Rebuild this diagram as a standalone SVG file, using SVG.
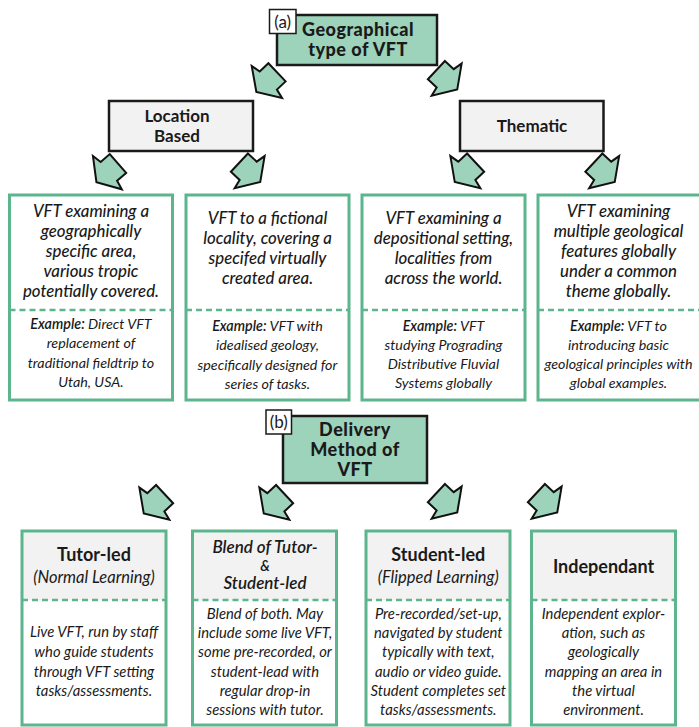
<svg xmlns="http://www.w3.org/2000/svg" width="699" height="727" viewBox="0 0 699 727">
<style>
text{font-family:Lato,"Open Sans","DejaVu Sans",sans-serif;fill:#1a1a1a;text-anchor:middle}
.hd{font-weight:900;font-size:18px;letter-spacing:0.5px}
.hd2{font-weight:bold;font-size:18px}
.gb{font-weight:bold;font-size:17px}
.lab{font-size:17px}
.mi{font-style:italic;font-weight:500;font-size:16.8px}
.ex{font-style:italic;font-weight:400;font-size:14.3px}
.exb{font-style:italic;font-weight:600}
.bd{font-style:italic;font-weight:400;font-size:14.8px}
.sub{font-style:italic;font-size:16.5px}
.sb{font-style:italic;font-weight:600;font-size:17px}
.amp{font-style:italic;font-weight:600;font-size:14.5px}
.mint{fill:#9dd3bb;stroke:#1a1a1a;stroke-width:2.5}
.gray{fill:#f2f2f2;stroke:#1a1a1a;stroke-width:2.5}
.gbox{fill:none;stroke:#5cb58d;stroke-width:3}
.dash{stroke:#5cb58d;stroke-width:2.5;stroke-dasharray:6 4;fill:none}
.hfill{fill:#f2f2f2}
.arr{fill:#9dd3bb;stroke:#111;stroke-width:2;stroke-linejoin:miter}
</style>
<defs>
<path id="ar" d="M-14.5,-12.5 L-2.5,-12.5 L-0.5,-22 L14,0 L-0.5,22 L-2.5,12.5 L-14.5,12.5 Z"/>
</defs>

<g id="connectors">
<use href="#ar" class="arr" transform="translate(266.5,82.3) rotate(136.5)"/>
<use href="#ar" class="arr" transform="translate(447,80) rotate(43)"/>
<use href="#ar" class="arr" transform="translate(107,173) rotate(139)"/>
<use href="#ar" class="arr" transform="translate(250,172.5) rotate(43)"/>
<use href="#ar" class="arr" transform="translate(465,172.5) rotate(137)"/>
<use href="#ar" class="arr" transform="translate(604.5,172.5) rotate(43)"/>
<use href="#ar" class="arr" transform="translate(154,504) rotate(137)"/>
<use href="#ar" class="arr" transform="translate(274,504) rotate(137)"/>
<use href="#ar" class="arr" transform="translate(447,503) rotate(43)"/>
<use href="#ar" class="arr" transform="translate(547,503) rotate(43)"/>
</g>

<g id="node-geo">
<rect class="mint" x="277" y="15" width="160" height="50"/>
<text class="hd" x="358" y="36">Geographical</text>
<text class="hd" x="358" y="56">type of VFT</text>
</g>
<g id="label-a">
<rect x="269.5" y="9.5" width="26.5" height="24" fill="#fff" stroke="#1a1a1a" stroke-width="1.5"/>
<text class="lab" x="282.7" y="27.5">(a)</text>
</g>

<g id="node-location">
<rect class="gray" x="109" y="101" width="144" height="50"/>
<text class="gb" x="177" y="122">Location</text>
<text class="gb" x="177" y="142">Based</text>
</g>
<g id="node-thematic">
<rect class="gray" x="460" y="101" width="143.5" height="50"/>
<text class="gb" x="532" y="131.5">Thematic</text>
</g>

<g id="node-g1">
<rect class="gbox" x="9.5" y="195" width="163" height="205"/>
<line class="dash" x1="9.5" y1="310" x2="172.5" y2="310"/>
<text class="mi" x="91" y="217.3">VFT examining a</text>
<text class="mi" x="91" y="237.3">geographically</text>
<text class="mi" x="91" y="257.3">specific area,</text>
<text class="mi" x="91" y="277.3">various tropic</text>
<text class="mi" x="91" y="297.3">potentially covered.</text>
<text class="ex" x="91" y="329"><tspan class="exb">Example:</tspan> Direct VFT</text>
<text class="ex" x="91" y="348.3">replacement of</text>
<text class="ex" x="91" y="367.5">traditional fieldtrip to</text>
<text class="ex" x="91" y="386.7">Utah, USA.</text>
</g>

<g id="node-g2">
<rect class="gbox" x="186" y="195" width="163" height="205"/>
<line class="dash" x1="186" y1="310" x2="349" y2="310"/>
<text class="mi" x="267.5" y="224.3">VFT to a fictional</text>
<text class="mi" x="267.5" y="244.3">locality, covering a</text>
<text class="mi" x="267.5" y="264.3">specifed virtually</text>
<text class="mi" x="267.5" y="284.3">created area.</text>
<text class="ex" x="267.5" y="330.7"><tspan class="exb">Example:</tspan> VFT with</text>
<text class="ex" x="267.5" y="350">idealised geology,</text>
<text class="ex" x="267.5" y="369.5">specifically designed for</text>
<text class="ex" x="267.5" y="389">series of tasks.</text>
</g>

<g id="node-g3">
<rect class="gbox" x="362" y="195" width="163" height="205"/>
<line class="dash" x1="362" y1="310" x2="525" y2="310"/>
<text class="mi" x="443.5" y="224.3">VFT examining a</text>
<text class="mi" x="443.5" y="244.3">depositional setting,</text>
<text class="mi" x="443.5" y="264.3">localities from</text>
<text class="mi" x="443.5" y="284.3">across the world.</text>
<text class="ex" x="443.5" y="330.7"><tspan class="exb">Example:</tspan> VFT</text>
<text class="ex" x="443.5" y="350">studying Prograding</text>
<text class="ex" x="443.5" y="369.3">Distributive Fluvial</text>
<text class="ex" x="443.5" y="388.3">Systems globally</text>
</g>

<g id="node-g4">
<rect class="gbox" x="538" y="195" width="163" height="205"/>
<line class="dash" x1="538" y1="310" x2="701" y2="310"/>
<text class="mi" x="618.5" y="217.3">VFT examining</text>
<text class="mi" x="618.5" y="237.3">multiple geological</text>
<text class="mi" x="618.5" y="257.3">features globally</text>
<text class="mi" x="618.5" y="277.3">under a common</text>
<text class="mi" x="618.5" y="297.3">theme globally.</text>
<text class="ex" x="618.5" y="330.7"><tspan class="exb">Example:</tspan>  VFT to</text>
<text class="ex" x="618.5" y="350">introducing basic</text>
<text class="ex" x="618.5" y="369.3">geological principles with</text>
<text class="ex" x="618.5" y="388.3">global examples.</text>
</g>

<g id="node-delivery">
<rect class="mint" x="283" y="416" width="144" height="67"/>
<text class="hd" x="355" y="436">Delivery</text>
<text class="hd" x="355" y="456">Method of</text>
<text class="hd" x="355" y="476">VFT</text>
</g>
<g id="label-b">
<rect x="266" y="410" width="25.5" height="24" fill="#fff" stroke="#1a1a1a" stroke-width="1.5"/>
<text class="lab" x="278.7" y="428">(b)</text>
</g>

<g id="node-tutor">
<rect class="hfill" x="22" y="531" width="144" height="69"/>
<rect class="gbox" x="22" y="531" width="144" height="194"/>
<line class="dash" x1="22" y1="600" x2="166" y2="600"/>
<text class="hd2" x="94" y="560.7">Tutor-led</text>
<text class="sub" x="94" y="583.3">(Normal Learning)</text>
<text class="bd" x="94" y="637.3">Live VFT, run by staff</text>
<text class="bd" x="94" y="657.3">who guide students</text>
<text class="bd" x="94" y="676.7">through VFT setting</text>
<text class="bd" x="94" y="695.7">tasks/assessments.</text>
</g>

<g id="node-blend">
<rect class="hfill" x="192.5" y="531" width="144" height="69"/>
<rect class="gbox" x="192.5" y="531" width="144" height="194"/>
<line class="dash" x1="192.5" y1="600" x2="336.5" y2="600"/>
<text class="sb" x="265" y="552.5">Blend of Tutor-</text>
<text class="amp" x="265" y="570.5">&amp;</text>
<text class="sb" x="265" y="589">Student-led</text>
<text class="bd" x="265" y="619">Blend of both. May</text>
<text class="bd" x="265" y="638.3">include some live VFT,</text>
<text class="bd" x="265" y="657.3">some pre-recorded, or</text>
<text class="bd" x="265" y="676.7">student-lead with</text>
<text class="bd" x="265" y="695.7">regular drop-in</text>
<text class="bd" x="265" y="715">sessions with tutor.</text>
</g>

<g id="node-student">
<rect class="hfill" x="366" y="531" width="144" height="69"/>
<rect class="gbox" x="366" y="531" width="144" height="194"/>
<line class="dash" x1="366" y1="600" x2="510" y2="600"/>
<text class="hd2" x="438.3" y="560.7">Student-led</text>
<text class="sub" x="438.3" y="583.3">(Flipped Learning)</text>
<text class="bd" x="438.3" y="619">Pre-recorded/set-up,</text>
<text class="bd" x="438.3" y="638.3">navigated by student</text>
<text class="bd" x="438.3" y="657.3">typically with text,</text>
<text class="bd" x="438.3" y="676.7">audio or video guide.</text>
<text class="bd" x="438.3" y="695.7">Student completes set</text>
<text class="bd" x="438.3" y="715">tasks/assessments.</text>
</g>

<g id="node-independant">
<rect class="hfill" x="531.5" y="531" width="144" height="69"/>
<rect class="gbox" x="531.5" y="531" width="144" height="194"/>
<line class="dash" x1="531.5" y1="600" x2="675.5" y2="600"/>
<text class="hd2" x="603.5" y="573.3">Independant</text>
<text class="bd" x="603.5" y="619">Independent explor-</text>
<text class="bd" x="603.5" y="638.3">ation, such as</text>
<text class="bd" x="603.5" y="657.3">geologically</text>
<text class="bd" x="603.5" y="676.7">mapping an area in</text>
<text class="bd" x="603.5" y="695.7">the virtual</text>
<text class="bd" x="603.5" y="715">environment.</text>
</g>
</svg>
